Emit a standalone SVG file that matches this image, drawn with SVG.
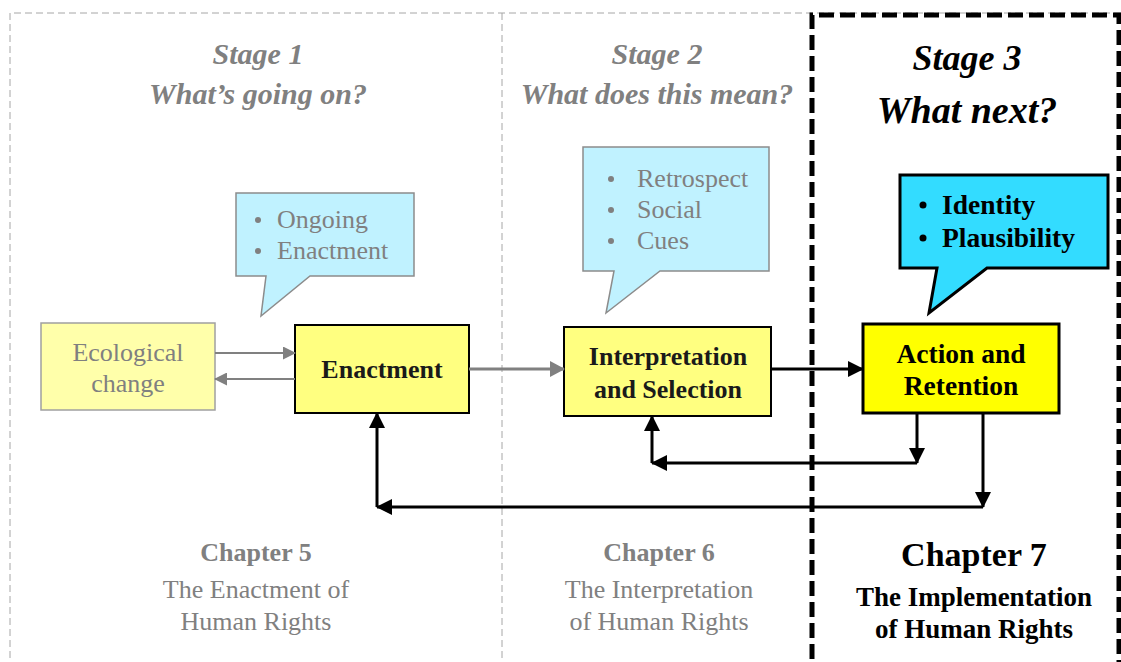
<svg xmlns="http://www.w3.org/2000/svg" width="1121" height="662" viewBox="0 0 1121 662">
<style>
.serif{font-family:"Liberation Serif","Times New Roman",serif;}
.stg{font-family:"Liberation Serif",serif;font-weight:bold;font-style:italic;font-size:30px;fill:#808080;text-anchor:middle;}
.stg3{font-family:"Liberation Serif",serif;font-weight:bold;font-style:italic;fill:#000;text-anchor:middle;}
.gtxt{font-family:"Liberation Serif",serif;font-size:26px;fill:#808080;}
.btxt{font-family:"Liberation Serif",serif;font-weight:bold;text-anchor:middle;}
.mid{text-anchor:middle;}
.g-arrow{stroke:#808080;fill:none;}
.k-arrow{stroke:#000;stroke-width:3;fill:none;}
</style>
<defs>
<marker id="gh" markerUnits="userSpaceOnUse" markerWidth="13" markerHeight="13" refX="12" refY="6.5" orient="auto">
<path d="M0,0 L13,6.5 L0,13 z" fill="#808080"/>
</marker>
<marker id="gh2" markerUnits="userSpaceOnUse" markerWidth="15" markerHeight="16" refX="14" refY="8" orient="auto">
<path d="M0,0 L15,8 L0,16 z" fill="#808080"/>
</marker>
<marker id="kh" markerUnits="userSpaceOnUse" markerWidth="16" markerHeight="16" refX="15" refY="8" orient="auto">
<path d="M0,0 L16,8 L0,16 z" fill="#000"/>
</marker>
</defs>
<rect width="1121" height="662" fill="#fff"/>
<g id="frame">
<path d="M10,680 V13 H1125" fill="none" stroke="#a6a6a6" stroke-width="1" stroke-dasharray="7,4"/>
<path d="M502,13 V662" fill="none" stroke="#a6a6a6" stroke-width="1" stroke-dasharray="7,4"/>
<path d="M812,680 V15 H1119 V680" fill="none" stroke="#000" stroke-width="5" stroke-dasharray="15,6"/>
</g>
<g id="stage-labels">
<text class="stg" x="258" y="64">Stage 1</text>
<text class="stg" x="258" y="104">What’s going on?</text>
<text class="stg" x="657" y="64">Stage 2</text>
<text class="stg" x="657" y="104">What does this mean?</text>
<text class="stg3" x="967" y="70" font-size="36">Stage 3</text>
<text class="stg3" x="967" y="123" font-size="38">What next?</text>
</g>
<g id="callout-enactment">
<path d="M236,193 H414 V276 H310 L261,316 L266,276 H236 Z" fill="#c0f2ff" stroke="#8c8c8c" stroke-width="1.5"/>
<circle cx="258" cy="220" r="3" fill="#808080"/>
<circle cx="258" cy="251" r="3" fill="#808080"/>
<text class="gtxt" x="277" y="228">Ongoing</text>
<text class="gtxt" x="277" y="259">Enactment</text>
</g>
<g id="callout-interpretation">
<path d="M583,147 H769 V271 H660 L606,313 L614,271 H583 Z" fill="#c0f2ff" stroke="#8c8c8c" stroke-width="1.5"/>
<circle cx="611" cy="179" r="3" fill="#808080"/>
<circle cx="611" cy="210" r="3" fill="#808080"/>
<circle cx="611" cy="241" r="3" fill="#808080"/>
<text class="gtxt" x="637" y="187">Retrospect</text>
<text class="gtxt" x="637" y="218">Social</text>
<text class="gtxt" x="637" y="249">Cues</text>
</g>
<g id="callout-action">
<path d="M900,175 H1108 V268 H987 L929,313 L937,268 H900 Z" fill="#33dcff" stroke="#000" stroke-width="3"/>
<circle cx="923" cy="205" r="3.5" fill="#000"/>
<circle cx="923" cy="238" r="3.5" fill="#000"/>
<text class="serif" x="942" y="214" font-size="27.5" font-weight="bold" fill="#000">Identity</text>
<text class="serif" x="942" y="247" font-size="27.5" font-weight="bold" fill="#000">Plausibility</text>
</g>
<g id="node-ecological">
<rect x="41" y="323" width="174" height="87" fill="#ffffaa" stroke="#a0a0a0" stroke-width="1.5"/>
<text class="gtxt mid" x="128" y="361" font-size="25.5">Ecological</text>
<text class="gtxt mid" x="128" y="392" font-size="25.5">change</text>
</g>
<g id="node-enactment">
<rect x="295" y="325" width="174" height="88" fill="#ffff80" stroke="#000" stroke-width="2"/>
<text class="btxt" x="382" y="378" font-size="26" fill="#1a1a1a">Enactment</text>
</g>
<g id="node-interpretation">
<rect x="564" y="327" width="207" height="89" fill="#ffff80" stroke="#000" stroke-width="2"/>
<text class="btxt" x="668" y="365" font-size="26" fill="#1a1a1a">Interpretation</text>
<text class="btxt" x="668" y="398" font-size="26" fill="#1a1a1a">and Selection</text>
</g>
<g id="node-action">
<rect x="863" y="324" width="196" height="89" fill="#ffff00" stroke="#000" stroke-width="3"/>
<text class="btxt" x="961" y="363" font-size="27.5" fill="#000">Action and</text>
<text class="btxt" x="961" y="395" font-size="27.5" fill="#000">Retention</text>
</g>
<g id="connectors">
<path class="g-arrow" stroke-width="2" d="M215,353 H295" marker-end="url(#gh)"/>
<path class="g-arrow" stroke-width="2" d="M295,379 H215" marker-end="url(#gh)"/>
<path class="g-arrow" stroke-width="3" d="M469,369 H564" marker-end="url(#gh2)"/>
<path class="k-arrow" d="M771,369 H863" marker-end="url(#kh)"/>
<path class="k-arrow" d="M917,413 V463" marker-end="url(#kh)"/>
<path class="k-arrow" d="M917,463 H652" marker-end="url(#kh)"/>
<path class="k-arrow" d="M652,463 V416" marker-end="url(#kh)"/>
<path class="k-arrow" d="M983,413 V507" marker-end="url(#kh)"/>
<path class="k-arrow" d="M983,507 H377" marker-end="url(#kh)"/>
<path class="k-arrow" d="M377,507 V413" marker-end="url(#kh)"/>
</g>
<g id="chapter-labels">
<text class="btxt" x="256" y="561" font-size="26" fill="#808080">Chapter 5</text>
<text class="gtxt mid" x="256" y="598" font-size="26.5">The Enactment of</text>
<text class="gtxt mid" x="256" y="630" font-size="26.5">Human Rights</text>
<text class="btxt" x="659" y="561" font-size="26" fill="#808080">Chapter 6</text>
<text class="gtxt mid" x="659" y="598" font-size="26.5">The Interpretation</text>
<text class="gtxt mid" x="659" y="630" font-size="26.5">of Human Rights</text>
<text class="btxt" x="974" y="566" font-size="34" fill="#000">Chapter 7</text>
<text class="btxt" x="974" y="606" font-size="27" fill="#000">The Implementation</text>
<text class="btxt" x="974" y="638" font-size="27" fill="#000">of Human Rights</text>
</g>
</svg>
